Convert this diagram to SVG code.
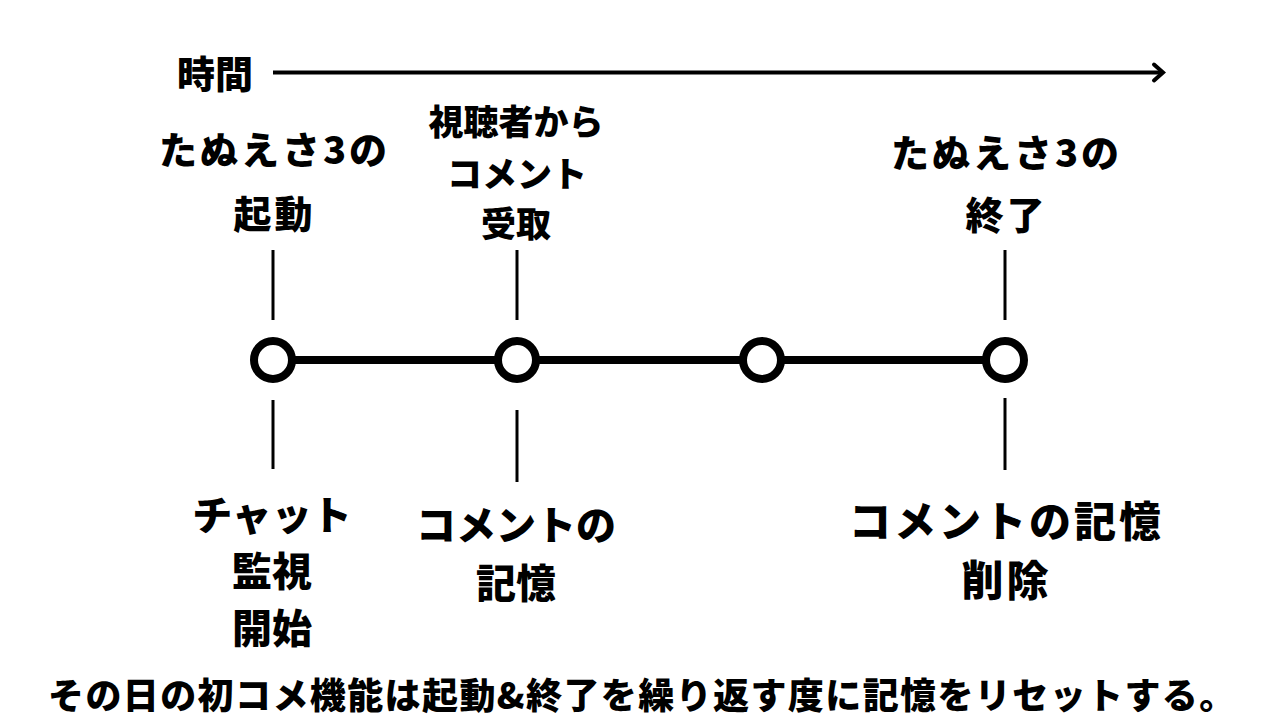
<svg xmlns="http://www.w3.org/2000/svg" width="1280" height="720" viewBox="0 0 1280 720">
<style>
text{font-family:"Noto Sans CJK JP","Noto Sans",sans-serif;font-weight:900;fill:#000;text-anchor:middle}
.tick{stroke:#000;stroke-width:3;fill:none}
.node{fill:#fff;stroke:#000;stroke-width:8}
</style>
<rect width="1280" height="720" fill="#fff"/>
<g id="time-axis">
<text x="215" y="88" font-size="38">時間</text>
<line x1="273" y1="72.5" x2="1162" y2="72.5" stroke="#000" stroke-width="4"/>
<polyline points="1154,64.5 1163,72.5 1154,80.5" fill="none" stroke="#000" stroke-width="4" stroke-linecap="round" stroke-linejoin="miter"/>
</g>
<g id="connectors">
<line x1="273" y1="360" x2="1005" y2="360" stroke="#000" stroke-width="8"/>
<line class="tick" x1="273" y1="250" x2="273" y2="320"/>
<line class="tick" x1="273" y1="400" x2="273" y2="469"/>
<line class="tick" x1="517" y1="250" x2="517" y2="320"/>
<line class="tick" x1="517" y1="410" x2="517" y2="482"/>
<line class="tick" x1="1005" y1="250" x2="1005" y2="320"/>
<line class="tick" x1="1005" y1="398" x2="1005" y2="470"/>
</g>
<g id="node-start">
<circle class="node" cx="273" cy="360" r="19"/>
<text x="274.5" y="164" font-size="38" letter-spacing="3">たぬえさ3の</text>
<text x="274.5" y="228" font-size="38" letter-spacing="3">起動</text>
<text x="272" y="530" font-size="40">チャット</text>
<text x="272" y="586" font-size="40">監視</text>
<text x="272" y="643" font-size="40">開始</text>
</g>
<g id="node-receive">
<circle class="node" cx="517" cy="360" r="19"/>
<text x="516" y="135" font-size="35">視聴者から</text>
<text x="517" y="187" font-size="35">コメント</text>
<text x="516" y="237" font-size="35">受取</text>
<text x="516" y="540" font-size="40">コメントの</text>
<text x="516" y="598" font-size="40">記憶</text>
</g>
<g id="node-mid">
<circle class="node" cx="762" cy="360" r="19"/>
</g>
<g id="node-end">
<circle class="node" cx="1005" cy="360" r="19"/>
<text x="1006.5" y="167" font-size="38" letter-spacing="3">たぬえさ3の</text>
<text x="1006.5" y="229" font-size="38" letter-spacing="3">終了</text>
<text x="1006.5" y="537" font-size="42" letter-spacing="3">コメントの記憶</text>
<text x="1006.5" y="596" font-size="42" letter-spacing="3">削除</text>
</g>
<g id="caption">
<text x="48" y="709" font-size="36" letter-spacing="1.4" style="text-anchor:start">その日の初コメ機能は起動&amp;終了を繰り返す度に記憶をリセットする。</text>
</g>
</svg>
